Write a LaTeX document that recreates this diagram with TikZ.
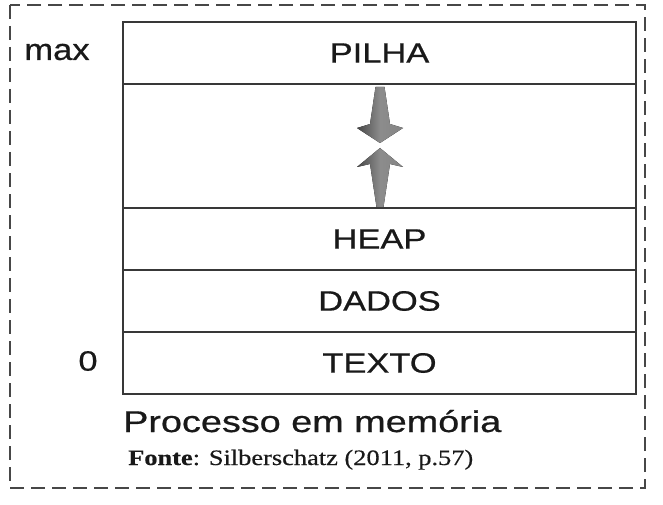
\documentclass[tikz,border=0pt]{standalone}
\usepackage{fontspec}
\usepackage{graphicx}
\setmainfont{Liberation Sans}[FakeBold=0.6]
\newfontfamily\serifface{Liberation Serif}[FakeBold=0.4]
\newcommand\widetext[2][1.23]{\scalebox{#1}[1]{#2}}
\begin{document}
\begin{tikzpicture}[x=1pt,y=-1pt,
  seg/.style={draw=black!78, line width=2pt, rectangle, minimum width=513pt, minimum height=62pt, inner sep=0pt, outer sep=0pt, font=\fontsize{28}{30}\selectfont, text=black!90},
  lbl/.style={font=\fontsize{30}{32}\selectfont, text=black!90, inner sep=0pt},
  frame/.style={draw=black!72, line width=2.2pt, dash pattern=on 14pt off 7pt},
  arr/.style={draw=none, left color=black!72, right color=black!48, middle color=black!45}
]
\useasboundingbox (0,0) rectangle (663,505);
\fill[white] (0,0) rectangle (663,505);
\coordinate (f1) at (10,5);
\coordinate (f2) at (645,488);
\draw[frame] (f1) rectangle (f2);

\node[seg] (pilha) at (379.5,53) {\widetext{PILHA}};
\node[seg, minimum height=124pt] (livre) at (379.5,146) {};
\node[seg] (heap) at (379.5,239) {\widetext{HEAP}};
\node[seg] (dados) at (379.5,301) {\widetext{DADOS}};
\node[seg] (texto) at (379.5,363) {\widetext{TEXTO}};

\node[lbl] (max) at (57,52) {\widetext[1.15]{max}};
\node[lbl, font=\fontsize{28}{30}\selectfont] (zero) at (88,361) {\widetext{0}};

\node[lbl, anchor=base west] (proc) at (123,432) {\widetext[1.26]{Processo em memória}};
\node[inner sep=0pt, anchor=base west, font=\serifface\fontsize{22}{24}\selectfont, text=black!90] (fonte) at (128,465) {\widetext[1.2]{\textbf{Fonte}: Silberschatz (2011, p.57)}};

% arrows
\fill[arr] (375.5,87) -- (370,124) -- (357,128) -- (380,143) -- (403,128) -- (390,124) -- (384.5,87) -- cycle;
\fill[arr] (380,148) -- (357,167) -- (370,164) -- (376.5,207) -- (383.5,207) -- (390,164) -- (403,167) -- cycle;
\end{tikzpicture}
\end{document}
